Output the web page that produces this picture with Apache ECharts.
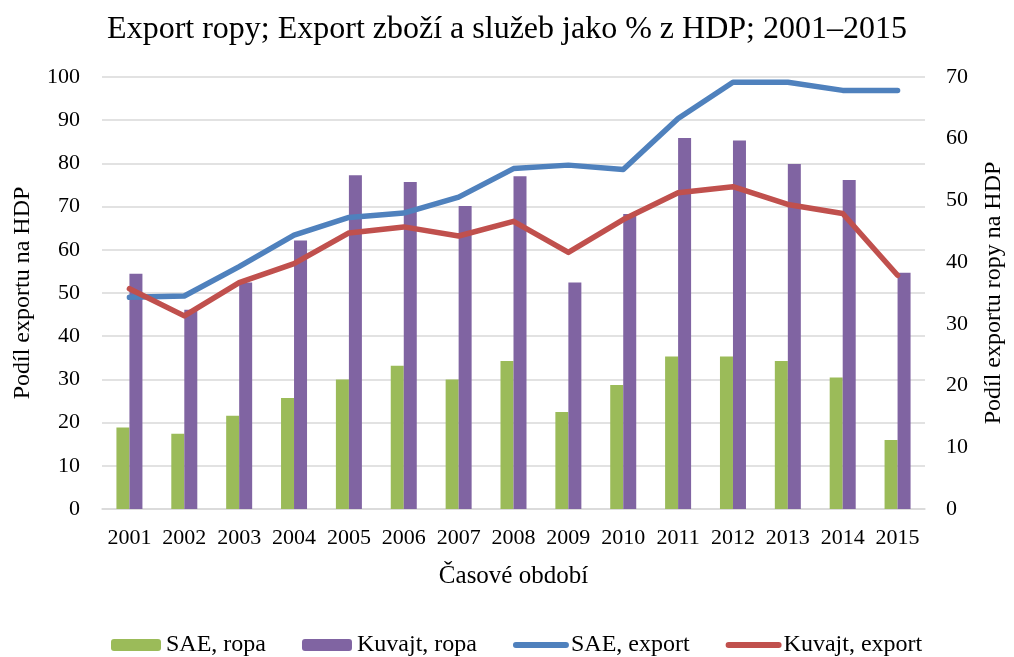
<!DOCTYPE html>
<html>
<head>
<meta charset="utf-8">
<script src="https://cdn.jsdelivr.net/npm/echarts@6/dist/echarts.min.js"></script>
<style>
  html, body { margin: 0; padding: 0; background: #fff; }
  #chart { width: 1014px; height: 657px; }
</style>
</head>
<body>
<div id="chart"></div>
<script>
// roky na ose x
var years = ['2001', '2002', '2003', '2004', '2005', '2006', '2007', '2008', '2009', '2010', '2011', '2012', '2013', '2014', '2015'];
// podíl exportu ropy na HDP (pravá osa)
var saeRopa = [13.2, 12.2, 15.1, 18.0, 21.0, 23.2, 21.0, 24.0, 15.7, 20.1, 24.7, 24.7, 24.0, 21.3, 11.2];
var kuvajtRopa = [38.1, 32.3, 36.7, 43.5, 54.1, 53.0, 49.1, 53.9, 36.7, 47.8, 60.1, 59.7, 55.9, 53.3, 38.3];
// export zboží a služeb jako % HDP (levá osa)
var saeExport = [49.0, 49.3, 56.1, 63.4, 67.5, 68.5, 72.2, 78.8, 79.6, 78.6, 90.4, 98.8, 98.8, 96.9, 96.9];
var kuvajtExport = [51.0, 44.7, 52.4, 56.8, 63.9, 65.3, 63.2, 66.6, 59.4, 67.0, 73.2, 74.6, 70.5, 68.4, 54.1];

(function () {
  var font = '"Liberation Serif", "Times New Roman", serif';
  var myChart = echarts.init(document.getElementById('chart'));
  var option = {
    animation: false,
    color: ['#9bbb59', '#8064a2', '#4f81bd', '#c0504d'],
    textStyle: { fontFamily: font, color: '#000' },
    title: {
      text: 'Export ropy; Export zboží a služeb jako % z HDP; 2001–2015',
      left: 'center',
      top: 9,
      textStyle: { fontFamily: font, fontSize: 32, fontWeight: 'normal', color: '#000' }
    },
    legend: {
      left: 106,
      top: 628,
      itemWidth: 50,
      itemHeight: 12,
      itemGap: 36,
      textStyle: { fontFamily: font, fontSize: 24, color: '#000' },
      data: [
        { name: 'SAE, ropa' },
        { name: 'Kuvajt, ropa' },
        // u čar skrýt kolečko, nechat jen tlustou čáru
        { name: 'SAE, export', itemStyle: { opacity: 0 }, lineStyle: { width: 6, cap: 'round' } },
        { name: 'Kuvajt, export', itemStyle: { opacity: 0 }, lineStyle: { width: 6, cap: 'round' } }
      ]
    },
    grid: {
      left: 102,
      right: 82,
      top: 77,
      bottom: 148
    },
    xAxis: [{
      type: 'category',
      data: years,
      name: 'Časové období',
      nameLocation: 'middle',
      nameGap: 55,
      nameTextStyle: { fontFamily: font, fontSize: 25, color: '#000' },
      axisLabel: { fontFamily: font, fontSize: 22, color: '#000', margin: 18, interval: 0 },
      axisTick: { show: false },
      axisLine: { lineStyle: { color: '#d9d9d9', width: 1.5 } }
    }],
    yAxis: [{
      type: 'value',
      min: 0,
      max: 100,
      interval: 10,
      name: 'Podíl exportu na HDP',
      nameLocation: 'middle',
      nameGap: 67,
      nameTextStyle: { fontFamily: font, fontSize: 24, color: '#000' },
      axisLabel: { fontFamily: font, fontSize: 22, color: '#000', margin: 22 },
      axisLine: { show: false },
      axisTick: { show: false },
      splitLine: { lineStyle: { color: '#d9d9d9', width: 1.5 } }
    }, {
      type: 'value',
      min: 0,
      max: 70,
      interval: 10,
      name: 'Podíl exportu ropy na HDP',
      nameLocation: 'middle',
      nameGap: 57,
      nameTextStyle: { fontFamily: font, fontSize: 24, color: '#000' },
      axisLabel: { fontFamily: font, fontSize: 22, color: '#000', margin: 21 },
      axisLine: { show: false },
      axisTick: { show: false },
      splitLine: { show: false }
    }],
    series: [{
      name: 'SAE, ropa',
      type: 'bar',
      yAxisIndex: 1,
      data: saeRopa,
      barWidth: 13,
      barGap: '0%'
    }, {
      name: 'Kuvajt, ropa',
      type: 'bar',
      yAxisIndex: 1,
      data: kuvajtRopa,
      barWidth: 13,
      barGap: '0%'
    }, {
      name: 'SAE, export',
      type: 'line',
      yAxisIndex: 0,
      data: saeExport,
      symbol: 'none',
      lineStyle: { width: 5.5, cap: 'round', join: 'round' }
    }, {
      name: 'Kuvajt, export',
      type: 'line',
      yAxisIndex: 0,
      data: kuvajtExport,
      symbol: 'none',
      lineStyle: { width: 5.5, cap: 'round', join: 'round' }
    }]
  };
  myChart.setOption(option);
})();
</script>
</body>
</html>
